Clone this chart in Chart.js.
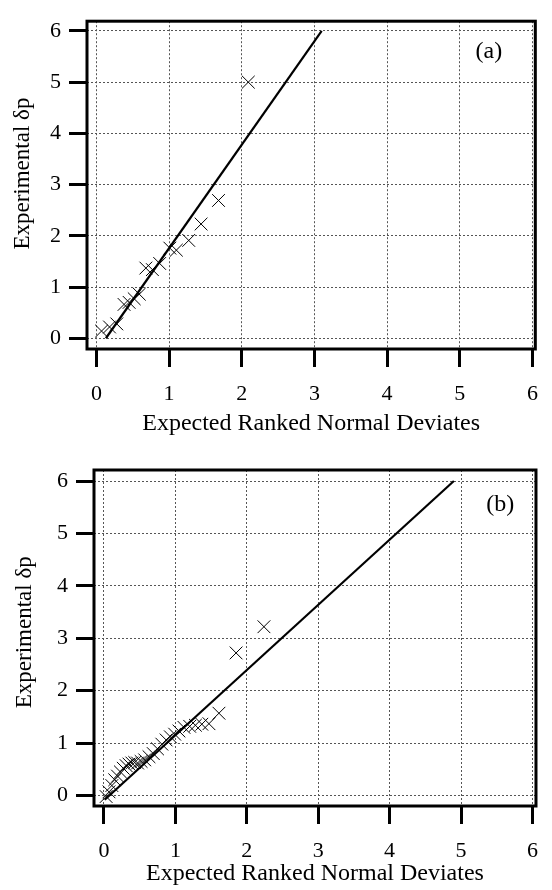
<!DOCTYPE html>
<html lang="en">

<head>
  <meta charset="UTF-8">
  <meta name="viewport" content="width=device-width, initial-scale=1.0">
  <title>Normal probability plots</title>
  <script src="https://cdn.jsdelivr.net/npm/chart.js"></script>
  <style>
    body {
      margin: 0;
      background: #fff;
    }

    .painel {
      width: 552px;
      height: 445px;
    }

    canvas {
      display: block;
    }
  </style>
</head>

<body>
  <div class="painel"><canvas id="graficoA" width="552" height="445"></canvas></div>
  <div class="painel"><canvas id="graficoB" width="552" height="445"></canvas></div>

  <script>
    // painel (a)
    var desviosA = [0.07, 0.18, 0.28, 0.38, 0.45, 0.52, 0.59, 0.68, 0.77, 0.87, 1.01, 1.10, 1.27, 1.44, 1.68, 2.09];
    var deltaPA = [0.14, 0.22, 0.28, 0.66, 0.70, 0.77, 0.86, 1.37, 1.34, 1.46, 1.76, 1.72, 1.91, 2.23, 2.69, 5.00];
    var retaXA = [0.13, 3.10];
    var retaYA = [0.00, 6.00];

    // painel (b)
    var desviosB = [0.03, 0.07, 0.11, 0.15, 0.19, 0.23, 0.27, 0.31, 0.35, 0.39, 0.43, 0.47, 0.52, 0.57, 0.63, 0.69, 0.75, 0.81, 0.87, 0.93, 0.99, 1.05, 1.12, 1.20, 1.28, 1.37, 1.47, 1.61, 1.85, 2.24];
    var deltaPB = [-0.02, 0.07, 0.19, 0.30, 0.37, 0.45, 0.52, 0.57, 0.60, 0.62, 0.63, 0.62, 0.65, 0.68, 0.74, 0.80, 0.89, 0.98, 1.06, 1.12, 1.17, 1.23, 1.30, 1.32, 1.34, 1.36, 1.37, 1.57, 2.72, 3.22];
    var retaXB = [0.01, 4.90];
    var retaYB = [-0.08, 6.00];

    var ticksEixo = [0, 1, 2, 3, 4, 5, 6];

    var fonteSerif = 'Liberation Serif';

    // moldura grossa em volta da area do grafico + letra do painel
    var moldura = {
      id: 'moldura',
      afterDraw: function (grafico, args, opcoes) {
        var area = grafico.chartArea;
        var ctx = grafico.ctx;
        ctx.save();
        ctx.strokeStyle = '#000';
        ctx.lineWidth = 3;
        ctx.strokeRect(area.left, area.top, area.right - area.left, area.bottom - area.top);
        ctx.font = '24px "' + fonteSerif + '"';
        ctx.fillStyle = '#000';
        ctx.textAlign = 'center';
        ctx.textBaseline = 'middle';
        ctx.fillText(opcoes.texto, grafico.scales.x.getPixelForValue(opcoes.x), grafico.scales.y.getPixelForValue(opcoes.y));
        ctx.restore();
      }
    };

    function montarGrafico(idCanvas, xs, ys, retaX, retaY, caixa, letra) {
      var pontos = xs.map(function (x, i) { return { x: x, y: ys[i] }; });
      var reta = retaX.map(function (x, i) { return { x: x, y: retaY[i] }; });

      var grade = {
        color: '#555',
        lineWidth: 1,
        drawTicks: true,
        tickLength: 18,
        tickWidth: 3,
        tickColor: '#000'
      };

      return new Chart(document.getElementById(idCanvas), {
        type: 'scatter',
        data: {
          datasets: [{
            data: pontos,
            pointStyle: 'crossRot',
            pointRadius: 9,
            pointHoverRadius: 9,
            pointBorderWidth: 1,
            borderColor: '#000',
            backgroundColor: '#000'
          },
          {
            data: reta,
            showLine: true,
            pointRadius: 0,
            borderColor: '#000',
            borderWidth: 2.2
          }]
        },
        options: {
          responsive: false,
          animation: false,
          devicePixelRatio: 1,
          layout: {
            padding: { top: caixa.top, right: caixa.right, left: 0, bottom: 0 }
          },
          plugins: {
            legend: { display: false },
            tooltip: { enabled: false },
            moldura: letra
          },
          scales: {
            x: {
              type: 'linear',
              min: caixa.xMin,
              max: caixa.xMax,
              afterBuildTicks: function (escala) {
                escala.ticks = ticksEixo.map(function (v) { return { value: v }; });
              },
              ticks: {
                padding: 14,
                color: '#000',
                maxRotation: 0,
                font: { family: fonteSerif, size: 22 }
              },
              grid: grade,
              border: { display: false, dash: [2, 2] },
              title: {
                display: true,
                text: 'Expected Ranked Normal Deviates',
                color: '#000',
                font: { family: fonteSerif, size: 24 },
                padding: { top: 0, bottom: caixa.tituloX }
              },
              afterFit: function (escala) {
                escala.height = caixa.bottom;
              }
            },
            y: {
              type: 'linear',
              min: caixa.yMin,
              max: caixa.yMax,
              afterBuildTicks: function (escala) {
                escala.ticks = ticksEixo.map(function (v) { return { value: v }; });
              },
              ticks: {
                padding: 8,
                color: '#000',
                font: { family: fonteSerif, size: 22 }
              },
              grid: grade,
              border: { display: false, dash: [2, 2] },
              title: {
                display: true,
                text: caixa.textoY,
                color: '#000',
                font: { family: fonteSerif, size: 23 },
                padding: { top: caixa.tituloY, bottom: 0 }
              },
              afterFit: function (escala) {
                escala.width = caixa.left;
              }
            }
          }
        },
        plugins: [moldura]
      });
    }

    // espacos no inicio sobem o titulo do eixo y no painel (a)
    montarGrafico('graficoA', desviosA, deltaPA, retaXA, retaYA,
      { left: 87, top: 15, right: 13, bottom: 96, xMin: -0.13, xMax: 6.04, yMin: -0.21, yMax: 6.19, tituloX: 7, tituloY: 9, textoY: '    Experimental δp' },
      { texto: '(a)', x: 5.4, y: 5.6 });

    montarGrafico('graficoB', desviosB, deltaPB, retaXB, retaYB,
      { left: 94, top: 25, right: 4, bottom: 84, xMin: -0.14, xMax: 6.05, yMin: -0.20, yMax: 6.21, tituloX: 2, tituloY: 11, textoY: '  Experimental δp' },
      { texto: '(b)', x: 5.55, y: 5.55 });
  </script>
</body>

</html>
